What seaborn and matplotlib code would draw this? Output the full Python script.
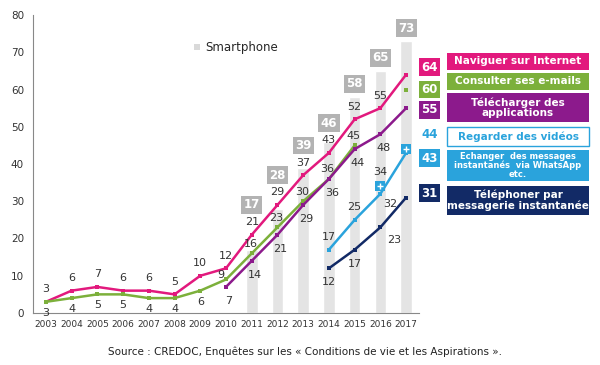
import numpy as np
import pandas as pd
import matplotlib
matplotlib.use('Agg')
import matplotlib.pyplot as plt
from matplotlib.patches import Rectangle
import seaborn as sns

nan = np.nan
years = [str(y) for y in range(2003, 2018)]
smartphone = [nan] * 8 + [17, 28, 39, 46, 58, 65, 73]
internet = [3, 6, 7, 6, 6, 5, 10, 12, 21, 29, 37, 43, 52, 55, 64]
emails = [3, 4, 5, 5, 4, 4, 6, 9, 16, 23, 30, 36, 45, nan, 60]
apps = [nan] * 7 + [7, 14, 21, 29, 36, 44, 48, 55]
videos = [nan] * 13 + [34, 44]
messages = [nan] * 11 + [17, 25, 32, 43]
telephone = [nan] * 11 + [12, 17, 23, 31]

legend_labels = ['Naviguer sur Internet', 'Consulter ses e-mails',
                 'Télécharger des\napplications', 'Regarder des vidéos',
                 'Echanger  des messages\ninstantanés  via WhatsApp\netc.',
                 'Téléphoner par\nmessagerie instantanée']

PINK, GREEN, PURPLE = '#e2197d', '#7cb03b', '#8c1a8c'
LBLUE, NAVY, GREY = '#2aa3dc', '#122a66', '#e4e4e4'

sns.set_style('white')
plt.rcParams['font.family'] = ['DejaVu Sans']

fig = plt.figure(figsize=(6, 3.65), dpi=100)
ax = fig.add_axes([33 / 600, 1 - 313 / 365, 386 / 600, 298 / 365])

bars = pd.DataFrame({'year': years, 'value': smartphone}).dropna()
sns.barplot(data=bars, x='year', y='value', order=years, color=GREY,
            width=0.45, saturation=1, ax=ax, label='Smartphone')

idx = np.arange(len(years))


def draw_series(vals, color, marker='s', ms=3.5, line=True):
    vals = np.array(vals, dtype=float)
    # split into runs without gaps
    seg = []
    for i, v in enumerate(vals):
        if np.isnan(v):
            if seg:
                yield seg
            seg = []
        else:
            seg.append(i)
    if seg:
        yield seg


def plot_series(vals, color, lw=1.8, ms=3.5, line=True):
    vals = np.array(vals, dtype=float)
    for seg in draw_series(vals, color):
        df = pd.DataFrame({'x': idx[seg], 'y': vals[seg]})
        sns.lineplot(data=df, x='x', y='y', color=color, marker='s',
                     markersize=ms, markeredgewidth=0, estimator=None,
                     linewidth=lw if (line and len(seg) > 1) else 0, ax=ax)


plot_series(internet, PINK)
plot_series(emails, GREEN)
plot_series(apps, PURPLE)
plot_series(messages, LBLUE)
plot_series(telephone, NAVY)
plot_series(videos, LBLUE, ms=6.5, line=False)
vdf = pd.DataFrame({'x': idx, 'y': videos}).dropna()
sns.scatterplot(data=vdf, x='x', y='y', marker='+', color='white', s=22,
                linewidth=1.0, ax=ax, zorder=5)

# value labels on the lines (final year handled by boxes)
def put(i, v, dx, dy):
    ax.annotate(f'{int(v)}', (i, v), xytext=(dx, dy), textcoords='offset points',
                ha='center', va='center', fontsize=8, color='#333333')

for i, v in enumerate(internet[:-1]):
    put(i, v, 0, 9)
for i, v in enumerate(emails[:-1]):
    if np.isnan(v):
        continue
    if i < 7:
        put(i, v, 0, -8)
    elif i == 7:
        put(i, v, -4, 3)
    else:
        put(i, v, -1, 7)
for i, v in enumerate(apps[:-1]):
    if not np.isnan(v):
        put(i, v, 2, -10)
for i, v in enumerate(messages[:-1]):
    if not np.isnan(v):
        put(i, v, 7, -7) if i == 13 else put(i, v, 0, 9)
for i, v in enumerate(telephone[:-1]):
    if not np.isnan(v):
        put(i, v, 10, -9) if i == 13 else put(i, v, 0, -10)
put(13, videos[13], 0, 10)

# grey boxes above smartphone bars
line_max = np.nanmax(np.vstack([internet, emails, apps]), axis=0)
for i, v in enumerate(smartphone):
    if np.isnan(v):
        continue
    ypos = max(v + 3.5, line_max[i] + 8)
    ax.text(i, ypos, f'{int(v)}', ha='center', va='center', fontsize=8.5,
            fontweight='bold', color='white',
            bbox=dict(boxstyle='square,pad=0.2', fc='#b3b3b3', ec='none'))

# final values boxes outside the axes
final = [(internet[-1], PINK, 2, True), (emails[-1], GREEN, 0, True),
         (apps[-1], PURPLE, -0.5, True), (videos[-1], LBLUE, 3.8, False),
         (messages[-1], LBLUE, -1.4, True), (telephone[-1], NAVY, 1.2, True)]
for v, c, nudge, boxed in final:
    if boxed:
        ax.text(14.9, v + nudge, f'{int(v)}', ha='center', va='center', fontsize=8.5,
                fontweight='bold', color='white', clip_on=False,
                bbox=dict(boxstyle='square,pad=0.2', fc=c, ec='none'))
    else:
        ax.text(14.9, v + nudge, f'{int(v)}', ha='center', va='center', fontsize=8.5,
                fontweight='bold', color=c, clip_on=False)

# legend boxes at the right (pixel layout)
box_rows = [(53, 70, PINK, 'white', 7.5), (73, 90, GREEN, 'white', 7.5),
            (93, 122, PURPLE, 'white', 7.5), (127, 146, 'white', LBLUE, 7.5),
            (150, 181, LBLUE, 'white', 6), (186, 215, NAVY, 'white', 7.5)]
for (y0, y1, fc, tc, fs), lab in zip(box_rows, legend_labels):
    ec = LBLUE if fc == 'white' else 'none'
    fig.patches.append(Rectangle((447 / 600, 1 - y1 / 365), 142 / 600, (y1 - y0) / 365,
                                 transform=fig.transFigure, fc=fc, ec=ec, lw=1))
    fig.text(518 / 600, 1 - (y0 + y1) / 2 / 365, lab, ha='center', va='center',
             fontsize=fs, fontweight='bold', color=tc, linespacing=1.0)

ax.set_xlim(-0.5, 14.5)
ax.set_ylim(0, 80)
ax.set_yticks(range(0, 81, 10))
ax.set_xticks(idx)
ax.set_xticklabels(years)
ax.set_xticks(np.arange(-0.5, 15, 1), minor=True)
ax.tick_params(axis='x', which='major', length=0, labelsize=6.5, colors='#333333', pad=5)
ax.tick_params(axis='x', which='minor', length=4, color='#888888', direction='out')
ax.tick_params(axis='y', length=3, labelsize=7.5, colors='#333333', direction='out')
ax.tick_params(axis='both', color='#888888')
ax.set_xlabel('')
ax.set_ylabel('')
sns.despine(ax=ax)
for s in ['left', 'bottom']:
    ax.spines[s].set_color('#888888')

handles = [Rectangle((0, 0), 1, 1, fc='#d9d9d9', ec='none')]
ax.legend(handles, ['Smartphone'], loc='center left', bbox_to_anchor=(0.39, 0.89),
          frameon=False, handlelength=0.5, handleheight=0.5, handletextpad=0.4,
          fontsize=8.5)

fig.text(305 / 600, 1 - 352 / 365,
         'Source : CREDOC, Enquêtes sur les « Conditions de vie et les Aspirations ».',
         ha='center', va='center', fontsize=7.5, color='#222222')

fig.savefig('out.png', dpi=100)
